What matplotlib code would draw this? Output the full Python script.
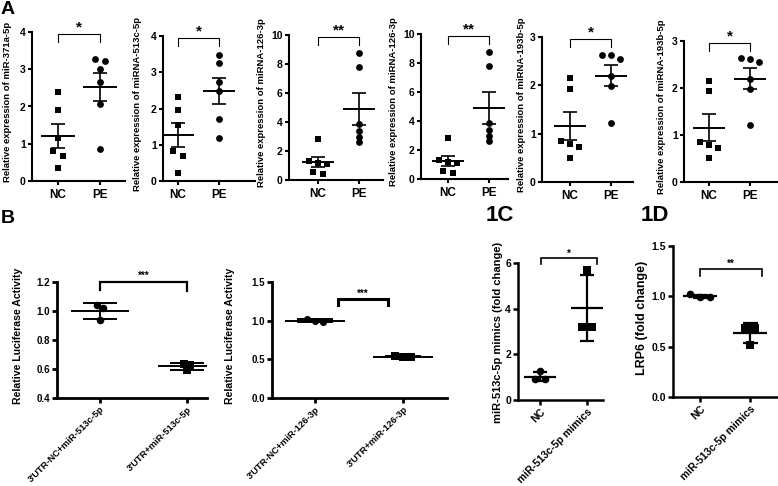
import numpy as np
import matplotlib
matplotlib.use('Agg')
import matplotlib.pyplot as plt
from matplotlib.ticker import FormatStrFormatter

plt.rcParams['font.family'] = ['Liberation Sans', 'DejaVu Sans']
plt.rcParams['font.weight'] = 'bold'
plt.rcParams['axes.labelweight'] = 'bold'

# ---------------- data ----------------
groups_A = ['NC', 'PE']
ylabels_A = ['Relative expression of miR-371a-5p',
             'Relative expression of miRNA-513c-5p',
             'Relative expression of miRNA-126-3p',
             'Relative expression of miRNA-126-3p',
             'Relative expression of miRNA-193b-5p',
             'Relative expression of miRNA-193b-5p']
nc_371a = [2.40, 1.90, 1.15, 0.80, 0.68, 0.35]
pe_371a = [3.28, 3.22, 3.00, 2.65, 2.08, 0.85]
nc_513c = [2.32, 1.95, 1.55, 0.82, 0.70, 0.22]
pe_513c = [3.48, 3.25, 2.72, 2.48, 1.70, 1.20]
nc_126 = [2.80, 1.30, 1.15, 1.10, 0.57, 0.41]
pe_126 = [8.75, 7.80, 3.85, 3.40, 2.95, 2.60]
nc_193b = [2.15, 1.93, 0.85, 0.78, 0.72, 0.50]
pe_193b = [2.63, 2.62, 2.55, 2.20, 1.98, 1.22]
yticks_A = [[0, 1, 2, 3, 4], [0, 1, 2, 3, 4], [0, 2, 4, 6, 8, 10],
            [0, 2, 4, 6, 8, 10], [0, 1, 2, 3], [0, 1, 2, 3]]
sig_A = ['*', '*', '**', '**', '*', '*']

luc_ylabel = 'Relative Luciferase Activity'
luc_labels_513 = ["3'UTR-NC+miR-513c-5p", "3'UTR+miR-513c-5p"]
luc_nc_513 = [1.04, 1.02, 0.94]
luc_utr_513 = [0.635, 0.63, 0.59]
luc_labels_126 = ["3'UTR-NC+miR-126-3p", "3'UTR+miR-126-3p"]
luc_nc_126 = [1.02, 1.00, 0.98]
luc_utr_126 = [0.545, 0.53, 0.53]
yticks_B1 = [0.4, 0.6, 0.8, 1.0, 1.2]
yticks_B2 = [0.0, 0.5, 1.0, 1.5]
sig_B = ['***', '***']

cd_labels = ['NC', 'miR-513c-5p mimics']
mir_nc = [1.25, 0.90, 0.90]
mir_mimic = [5.70, 3.20, 3.20]
lrp_nc = [1.02, 0.99, 0.99]
lrp_mimic = [0.69, 0.69, 0.52]
ylabel_C = 'miR-513c-5p mimics (fold change)'
ylabel_D = 'LRP6 (fold change)'
yticks_C = [0, 2, 4, 6]
yticks_D = [0.0, 0.5, 1.0, 1.5]
sig_C = '*'
sig_D = '**'

# ---------------- layout (pixels) ----------------
W, H = 778, 486
fig = plt.figure(figsize=(W / 100, H / 100), dpi=100)


def add_ax(x0, x1, ytop, ybot):
    return fig.add_axes([x0 / W, 1 - ybot / H, (x1 - x0) / W, (ybot - ytop) / H])


def spread(vals, tol, step):
    v = np.asarray(vals, float)
    order = np.argsort(-v)
    off = np.zeros(len(v))
    clusters, cur = [], [order[0]]
    for k in order[1:]:
        if v[cur[-1]] - v[k] <= tol:
            cur.append(k)
        else:
            clusters.append(cur)
            cur = [k]
    clusters.append(cur)
    for c in clusters:
        n = len(c)
        for j, k in enumerate(c):
            off[k] = (j - (n - 1) / 2) * step
    return off


def style(ax, lw, ticklen, labelsize):
    for s in ['top', 'right']:
        ax.spines[s].set_visible(False)
    for s in ['left', 'bottom']:
        ax.spines[s].set_linewidth(lw)
    ax.tick_params(direction='out', length=ticklen, width=lw, labelsize=labelsize, pad=1.5)


def bracket(ax, xa, xb, y0a, y1, y0b, text, lw, fs, off=0.5):
    ax.plot([xa, xa, xb, xb], [y0a, y1, y1, y0b], color='black', lw=lw,
            clip_on=False, solid_joinstyle='miter')
    ax.annotate(text, ((xa + xb) / 2, y1), xytext=(0, off), textcoords='offset points',
                ha='center', va='bottom', fontsize=fs, fontweight='bold', annotation_clip=False)


# ---------- Row A ----------
layout_A = [  # x0, x1, top, bottom, nc_px, pe_px, ylabel_x
    (32, 125, 32, 181, 58, 100, 8),
    (163, 255, 36, 181, 178, 219, 138),
    (289, 383, 35, 180, 318, 359, 261),
    (421, 508, 34, 179, 448, 489, 393),
    (542, 633, 37, 182, 570, 611, 521),
    (684, 777, 41, 182, 709, 750, 661),
]
data_A = [(nc_371a, pe_371a), (nc_513c, pe_513c), (nc_126, pe_126),
          (nc_126, pe_126), (nc_193b, pe_193b), (nc_193b, pe_193b)]

for k, (lay, (nc, pe)) in enumerate(zip(layout_A, data_A)):
    x0, x1, top, bot, pnc, ppe, lx = lay
    ax = add_ax(x0, x1, top, bot)
    u = ppe - pnc
    ymax = yticks_A[k][-1]
    ax.set_xlim((x0 - pnc) / u, (x1 - pnc) / u)
    ax.set_ylim(0, ymax)
    style(ax, 1.5, 3, 7.5)
    for i, (vals, mk) in enumerate([(nc, 's'), (pe, 'o')]):
        v = np.asarray(vals)
        ax.scatter(i + spread(v, ymax * 0.035, 0.22), v, marker=mk, s=24,
                   c='black', linewidths=0, zorder=3, clip_on=False)
        m = v.mean()
        se = v.std(ddof=1) / np.sqrt(len(v))
        ax.hlines(m, i - 0.4, i + 0.4, color='black', lw=1.4, zorder=4)
        ax.vlines(i, m - se, m + se, color='black', lw=1.2, zorder=4)
        ax.hlines([m - se, m + se], i - 0.17, i + 0.17, color='black', lw=1.2, zorder=4)
    ax.set_xticks([0, 1])
    ax.set_xticklabels(groups_A, fontsize=8.5, fontweight='bold')
    ax.tick_params(axis='x', pad=3)
    ax.set_yticks(yticks_A[k])
    bracket(ax, 0, 1, ymax * 0.93, ymax * 0.985, ymax * 0.93, sig_A[k], 0.8, 11, 0)
    fig.text(lx / W, 1 - ((top + bot) / 2 - 5) / H, ylabels_A[k], rotation=90,
             ha='center', va='center', fontsize=6.8, fontweight='bold')


# ---------- Rows B, C, D (mean +/- SD) ----------
def draw_sd(ax, groups_vals, markers, half_line, half_cap, tol, step, ms, lw):
    for i, (vals, mk) in enumerate(zip(groups_vals, markers)):
        v = np.asarray(vals)
        ax.scatter(i + spread(v, tol, step), v, marker=mk, s=ms, c='black',
                   linewidths=0, zorder=3)
        m = v.mean()
        sd = v.std(ddof=1)
        ax.hlines(m, i - half_line, i + half_line, color='black', lw=lw, zorder=4)
        ax.vlines(i, m - sd, m + sd, color='black', lw=lw, zorder=4)
        ax.hlines([m - sd, m + sd], i - half_cap, i + half_cap, color='black', lw=lw, zorder=4)


def setup(x0, x1, top, bot, t0, t1, ylim, yticks, fmt, lw, ls):
    ax = add_ax(x0, x1, top, bot)
    u = t1 - t0
    ax.set_xlim((x0 - t0) / u, (x1 - t0) / u)
    ax.set_ylim(*ylim)
    style(ax, lw, 3.5, ls)
    ax.set_yticks(yticks)
    ax.yaxis.set_major_formatter(FormatStrFormatter(fmt))
    ax.set_xticks([0, 1])
    return ax


# B1
ax = setup(57, 207, 282, 398, 100, 187, (0.4, 1.2), yticks_B1, '%.1f', 2.0, 7)
draw_sd(ax, [luc_nc_513, luc_utr_513], ['o', 's'], 0.33, 0.19, 0.03, 0.07, 30, 1.4)
ax.set_xticklabels(luc_labels_513, rotation=45, ha='right', rotation_mode='anchor',
                   fontsize=6.7, fontweight='bold')
bracket(ax, 0, 1, 1.145, 1.2, 1.14, sig_B[0], 1.6, 7, 0.5)
fig.text(18 / W, 1 - 336 / H, luc_ylabel, rotation=90, ha='center', va='center',
         fontsize=7.6, fontweight='bold')

# B2
ax = setup(272, 447, 282, 398, 315, 403, (0.0, 1.5), yticks_B2, '%.1f', 2.0, 7)
draw_sd(ax, [luc_nc_126, luc_utr_126], ['o', 's'], 0.34, 0.2, 0.025, 0.09, 26, 1.4)
ax.set_xticklabels(luc_labels_126, rotation=45, ha='right', rotation_mode='anchor',
                   fontsize=6.7, fontweight='bold')
bracket(ax, 0.26, 0.83, 1.2, 1.28, 1.2, sig_B[1], 2.2, 7, 0)
fig.text(230 / W, 1 - 336 / H, luc_ylabel, rotation=90, ha='center', va='center',
         fontsize=7.6, fontweight='bold')

# 1C
ax = setup(518, 603, 263, 400, 540, 587, (0, 6), yticks_C, '%d', 1.8, 7.5)
draw_sd(ax, [mir_nc, mir_mimic], ['o', 's'], 0.33, 0.15, 0.15, 0.2, 30, 1.6)
ax.set_xticklabels(cd_labels, rotation=45, ha='right', rotation_mode='anchor',
                   fontsize=7.5, fontweight='bold')
bracket(ax, 0.02, 1.21, 5.95, 6.2, 5.95, sig_C, 1.2, 7, 0)
fig.text(498 / W, 1 - 332 / H, ylabel_C, rotation=90, ha='center', va='center',
         fontsize=8, fontweight='bold')

# 1D
ax = setup(673, 777, 246, 397, 700, 750, (0, 1.5), yticks_D, '%.1f', 1.8, 7.5)
draw_sd(ax, [lrp_nc, lrp_mimic], ['o', 's'], 0.34, 0.15, 0.04, 0.2, 30, 1.6)
ax.set_xticklabels(cd_labels, rotation=45, ha='right', rotation_mode='anchor',
                   fontsize=7.5, fontweight='bold')
bracket(ax, 0.0, 1.24, 1.2, 1.27, 1.2, sig_D, 1.2, 7, 0)
fig.text(642 / W, 1 - 318 / H, ylabel_D, rotation=90, ha='center', va='center',
         fontsize=9, fontweight='bold')

# panel letters
fig.text(8 / W, 1 - 10 / H, 'A', ha='center', va='center', fontsize=14, fontweight='bold')
fig.text(8 / W, 1 - 218 / H, 'B', ha='center', va='center', fontsize=14, fontweight='bold')
fig.text(500 / W, 1 - 215 / H, '1C', ha='center', va='center', fontsize=16, fontweight='bold')
fig.text(655 / W, 1 - 215 / H, '1D', ha='center', va='center', fontsize=16, fontweight='bold')

fig.savefig('out.png', dpi=100)
